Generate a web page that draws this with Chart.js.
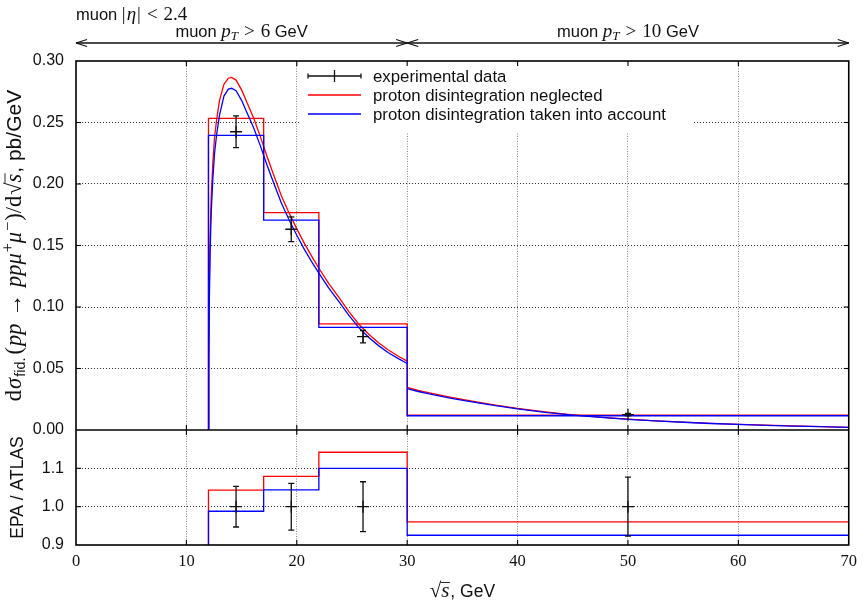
<!DOCTYPE html>
<html><head><meta charset="utf-8">
<script src="https://cdn.jsdelivr.net/npm/chart.js@4.4.1/dist/chart.umd.min.js"></script>
<style>html,body{margin:0;padding:0;background:#fff;}#wrap{width:864px;height:602px;}</style>
</head><body><div id="wrap"><canvas id="c" width="864" height="602"></canvas></div>
<script>
// ---------------- data ----------------
const binEdges  = [12, 17, 22, 30, 70];
const histRed   = [0.2534, 0.1767, 0.0862, 0.0120];
const histBlue  = [0.2396, 0.1707, 0.0835, 0.0116];
const dataX     = [14.5, 19.5, 26, 50];
const dataY     = [0.2425, 0.1632, 0.0759, 0.0125];
const dataErr   = [0.0129, 0.0100, 0.0050, 0.0010];
const ratioRed  = [1.043, 1.079, 1.142, 0.9605];
const ratioBlue = [0.988, 1.044, 1.100, 0.9255];
const ratioData = [1.0, 1.0, 1.0, 1.0];
const ratioErr  = [0.053, 0.061, 0.065, 0.077];

// smooth predictions, muon pT > 6 GeV region (sqrt(s) < 30)
const curveX1    = [12.0, 12.03, 12.08, 12.15, 12.25, 12.4, 12.55, 12.75, 13.0, 13.4, 13.8, 14.1, 14.5, 15.0, 15.5, 16.1, 16.7, 17.3, 17.9, 18.6, 19.3, 20.0, 20.7, 21.4, 22.0, 22.9, 23.8, 24.7, 25.6, 26.5, 27.4, 28.3, 29.2, 30.0];
const curveRed1  = [0, 0.060, 0.120, 0.160, 0.190, 0.218, 0.238, 0.253, 0.268, 0.281, 0.2860, 0.2866, 0.2845, 0.2765, 0.2660, 0.2534, 0.2385, 0.2225, 0.2075, 0.1905, 0.1765, 0.1635, 0.1515, 0.1405, 0.1315, 0.1190, 0.1080, 0.0965, 0.0862, 0.0780, 0.0710, 0.0650, 0.0600, 0.0560];
const curveBlue1 = [0, 0.050, 0.105, 0.145, 0.177, 0.205, 0.225, 0.241, 0.256, 0.2715, 0.2772, 0.2778, 0.2758, 0.2680, 0.2577, 0.2455, 0.2310, 0.2155, 0.2010, 0.1845, 0.1710, 0.1583, 0.1467, 0.1360, 0.1275, 0.1153, 0.1046, 0.0934, 0.0834, 0.0754, 0.0686, 0.0628, 0.0580, 0.0541];
// muon pT > 10 GeV region (sqrt(s) > 30)
const curveX2    = [30, 31, 32, 34, 36, 38, 40, 42.5, 45, 47.5, 50, 52.5, 55, 57.5, 60, 62.5, 65, 67.5, 70];
const curveRed2  = [0.0347, 0.0322, 0.0302, 0.0265, 0.0232, 0.0203, 0.0175, 0.0147, 0.0123, 0.0104, 0.0088, 0.0075, 0.0064, 0.0054, 0.0046, 0.0039, 0.0033, 0.0027, 0.0022];
const curveBlue2 = [0.0336, 0.0313, 0.0294, 0.0258, 0.0226, 0.0198, 0.0171, 0.0144, 0.0121, 0.0102, 0.0086, 0.0074, 0.0063, 0.0053, 0.0045, 0.0038, 0.0032, 0.0027, 0.0022];

const xTicks    = [0, 10, 20, 30, 40, 50, 60, 70];
const yTopTicks = [0.00, 0.05, 0.10, 0.15, 0.20, 0.25, 0.30];
const yBotTicks = [0.9, 1.0, 1.1, 1.2];
const legendLabels = ['experimental data', 'proton disintegration neglected', 'proton disintegration taken into account'];

// ---------------- styles ----------------
const SANS  = '"Liberation Sans", Arial, sans-serif';
const SERIF = '"Liberation Serif", "Times New Roman", serif';
const INK = '#111';
const RED = '#ff0000';
const BLUE = '#0000ff';

function histPoints(edges, vals, base) {
  const pts = [{x: edges[0], y: base}];
  for (let i = 0; i < vals.length; i++) {
    pts.push({x: edges[i], y: vals[i]});
    pts.push({x: edges[i + 1], y: vals[i]});
  }
  return pts;
}
function curvePoints(xa, ya, xb, yb) {
  const pts = xa.map((x, i) => ({x, y: ya[i]}));
  pts.push({x: xa[xa.length - 1], y: null});
  xb.forEach((x, i) => pts.push({x, y: yb[i]}));
  return pts;
}
const near = (a, b) => Math.abs(a - b) < 1e-6;

const lineBase = {type: 'line', borderWidth: 1.3, pointRadius: 0, fill: false, tension: 0, spanGaps: false};

function richWidth(ctx, parts) {
  let w = 0;
  for (const p of parts) { ctx.font = p.f; w += ctx.measureText(p.t).width + (p.sp || 0); }
  return w;
}
function drawRich(ctx, parts, x, y, align) {
  const w = richWidth(ctx, parts);
  let cx = align === 'center' ? x - w / 2 : x;
  ctx.textAlign = 'left';
  ctx.textBaseline = 'alphabetic';
  for (const p of parts) {
    ctx.font = p.f;
    const tw = ctx.measureText(p.t).width;
    ctx.fillText(p.t, cx, y + (p.dy || 0));
    if (p.over) {
      ctx.beginPath();
      ctx.lineWidth = 0.9;
      ctx.moveTo(cx - 0.5, y - p.over);
      ctx.lineTo(cx + tw + 0.5, y - p.over);
      ctx.stroke();
    }
    cx += tw + (p.sp || 0);
  }
}

const errorBars = {
  id: 'errorBars',
  afterDatasetsDraw(chart) {
    const {ctx, chartArea: a, scales} = chart;
    const groups = [[scales.yTop, dataY, dataErr], [scales.yBot, ratioData, ratioErr]];
    ctx.save();
    ctx.strokeStyle = INK;
    ctx.lineWidth = 1.3;
    for (const [ys, vals, errs] of groups) {
      ctx.save();
      ctx.beginPath();
      ctx.rect(a.left, ys.top, a.right - a.left, ys.bottom - ys.top);
      ctx.clip();
      vals.forEach((v, i) => {
        const px = scales.x.getPixelForValue(dataX[i]);
        const y1 = ys.getPixelForValue(v - errs[i]);
        const y2 = ys.getPixelForValue(v + errs[i]);
        ctx.beginPath();
        ctx.moveTo(px, y1); ctx.lineTo(px, y2);
        ctx.moveTo(px - 3, y1); ctx.lineTo(px + 3, y1);
        ctx.moveTo(px - 3, y2); ctx.lineTo(px + 3, y2);
        ctx.stroke();
      });
      ctx.restore();
    }
    ctx.restore();
  }
};

const decorations = {
  id: 'decorations',
  afterDraw(chart) {
    const {ctx, chartArea: a, scales: {x, yTop, yBot}} = chart;
    const L = (x1, y1, x2, y2) => { ctx.beginPath(); ctx.moveTo(x1, y1); ctx.lineTo(x2, y2); ctx.stroke(); };
    ctx.save();

    // ---- legend (opaque key box) ----
    ctx.fillStyle = '#fff';
    ctx.fillRect(300, 63, 392, 69);
    const rows = [76, 95, 114];
    const sx0 = 308, sx1 = 361;
    ctx.lineWidth = 1.3;
    ctx.strokeStyle = INK;
    L(sx0, rows[0], sx1, rows[0]);
    L(sx0, rows[0] - 2.5, sx0, rows[0] + 2.5);
    L(sx1, rows[0] - 2.5, sx1, rows[0] + 2.5);
    L((sx0 + sx1) / 2, rows[0] - 6, (sx0 + sx1) / 2, rows[0] + 6);
    ctx.strokeStyle = RED; L(sx0, rows[1], sx1, rows[1]);
    ctx.strokeStyle = BLUE; L(sx0, rows[2], sx1, rows[2]);
    ctx.fillStyle = INK;
    ctx.font = `16.8px ${SANS}`;
    ctx.textAlign = 'left';
    ctx.textBaseline = 'middle';
    legendLabels.forEach((t, i) => ctx.fillText(t, 373, rows[i] + 1));

    // ---- frame, separator, inward ticks ----
    ctx.strokeStyle = '#000';
    ctx.lineWidth = 1.6;
    ctx.strokeRect(a.left, a.top, a.right - a.left, a.bottom - a.top);
    const ySep = yTop.bottom;
    L(a.left, ySep, a.right, ySep);
    ctx.lineWidth = 1.1;
    const T = 5;
    xTicks.forEach(v => {
      if (v <= 0 || v >= 70) return;
      const px = x.getPixelForValue(v);
      L(px, a.top, px, a.top + T);
      L(px, ySep - T, px, ySep + T);
      L(px, a.bottom, px, a.bottom - T);
    });
    yTopTicks.forEach(v => {
      if (near(v, 0) || near(v, 0.3)) return;
      const py = yTop.getPixelForValue(v);
      L(a.left, py, a.left + T, py);
      L(a.right, py, a.right - T, py);
    });
    yBotTicks.forEach(v => {
      if (near(v, 0.9) || near(v, 1.2)) return;
      const py = yBot.getPixelForValue(v);
      L(a.left, py, a.left + T, py);
      L(a.right, py, a.right - T, py);
    });

    // ---- top annotations ----
    ctx.fillStyle = INK;
    ctx.strokeStyle = INK;
    const M = `19px ${SERIF}`, MI = `italic 19px ${SERIF}`, S = `16.5px ${SANS}`;
    drawRich(ctx, [
      {t: 'muon ', f: S}, {t: '|', f: M, sp: 1}, {t: 'η', f: MI, sp: 1}, {t: '|', f: M, sp: 6}, {t: '<', f: M, sp: 6}, {t: '2.4', f: M}
    ], 76, 20, 'left');
    const ptParts = (n) => [
      {t: 'muon ', f: S}, {t: 'p', f: MI}, {t: 'T', f: `italic 13px ${SERIF}`, dy: 3, sp: 6}, {t: '>', f: M, sp: 6}, {t: n, f: M}, {t: ' GeV', f: S}
    ];
    drawRich(ctx, ptParts('6'), x.getPixelForValue(15), 37, 'center');
    drawRich(ctx, ptParts('10'), x.getPixelForValue(50), 37, 'center');
    // arrows
    const ay = 43;
    ctx.lineWidth = 1.3;
    const arrow = (xa, xb) => {
      L(xa, ay, xb, ay);
      L(xa, ay, xa + 11, ay - 3.5); L(xa, ay, xa + 11, ay + 3.5);
      L(xb, ay, xb - 11, ay - 3.5); L(xb, ay, xb - 11, ay + 3.5);
    };
    arrow(x.getPixelForValue(0), x.getPixelForValue(30));
    arrow(x.getPixelForValue(30), x.getPixelForValue(70));

    // ---- x-axis title ----
    drawRich(ctx, [
      {t: '√', f: `21px ${SERIF}`}, {t: 's', f: `italic 21px ${SERIF}`, over: 14.5, sp: 1}, {t: ', GeV', f: `17.5px ${SANS}`}
    ], (a.left + a.right) / 2, 597, 'center');

    // ---- y-axis titles ----
    ctx.save();
    ctx.translate(21, (yTop.top + yTop.bottom) / 2);
    ctx.rotate(-Math.PI / 2);
    const YM = `22.5px ${SERIF}`, YMI = `italic 22.5px ${SERIF}`, YS = `21px ${SANS}`, YSm = `16px ${SERIF}`;
    drawRich(ctx, [
      {t: 'd', f: YM, sp: 1}, {t: 'σ', f: YMI, sp: 1}, {t: 'fid.', f: `14.5px ${SANS}`, dy: 4, sp: 3},
      {t: '(', f: YM, sp: 1}, {t: 'pp', f: YMI, sp: 7}, {t: '→', f: YM, sp: 7}, {t: 'ppμ', f: YMI, sp: 1},
      {t: '+', f: YSm, dy: -8}, {t: 'μ', f: YMI, sp: 1}, {t: '−', f: YSm, dy: -8, sp: 1},
      {t: ')/d', f: YM, sp: 1}, {t: '√', f: YM}, {t: 's', f: YMI, over: 16, sp: 1}, {t: ', pb/GeV', f: YS}
    ], 0, 0, 'center');
    ctx.restore();
    ctx.save();
    ctx.translate(23, (yBot.top + yBot.bottom) / 2);
    ctx.rotate(-Math.PI / 2);
    ctx.font = `17.5px ${SANS}`;
    ctx.textAlign = 'center';
    ctx.textBaseline = 'alphabetic';
    ctx.fillText('EPA / ATLAS', 0, 0);
    ctx.restore();

    ctx.restore();
  }
};

const ctx = document.getElementById('c').getContext('2d');
new Chart(ctx, {
  type: 'line',
  data: {
    datasets: [
      {type: 'line', label: legendLabels[0], yAxisID: 'yTop', showLine: false,
       data: dataX.map((x, i) => ({x, y: dataY[i]})),
       pointStyle: 'cross', pointRadius: 6, pointBorderWidth: 1.3, borderColor: INK, pointBorderColor: INK},
      {type: 'line', label: 'ratio data', yAxisID: 'yBot', showLine: false,
       data: dataX.map((x, i) => ({x, y: ratioData[i]})),
       pointStyle: 'cross', pointRadius: 6, pointBorderWidth: 1.3, borderColor: INK, pointBorderColor: INK},
      {...lineBase, label: legendLabels[2], yAxisID: 'yTop', borderColor: BLUE,
       data: curvePoints(curveX1, curveBlue1, curveX2, curveBlue2)},
      {...lineBase, label: 'blue histogram', yAxisID: 'yTop', borderColor: BLUE,
       data: histPoints(binEdges, histBlue, 0)},
      {...lineBase, label: 'blue ratio', yAxisID: 'yBot', borderColor: BLUE,
       data: histPoints(binEdges, ratioBlue, 0)},
      {...lineBase, label: legendLabels[1], yAxisID: 'yTop', borderColor: RED,
       data: curvePoints(curveX1, curveRed1, curveX2, curveRed2)},
      {...lineBase, label: 'red histogram', yAxisID: 'yTop', borderColor: RED,
       data: histPoints(binEdges, histRed, 0)},
      {...lineBase, label: 'red ratio', yAxisID: 'yBot', borderColor: RED,
       data: histPoints(binEdges, ratioRed, 0)}
    ]
  },
  options: {
    responsive: false,
    animation: false,
    devicePixelRatio: 1,
    layout: {padding: {left: 0, top: 61, right: 11, bottom: 0}},
    plugins: {legend: {display: false}, tooltip: {enabled: false}},
    scales: {
      x: {
        type: 'linear', min: 0, max: 70,
        afterBuildTicks: s => { s.ticks = xTicks.map(v => ({value: v})); },
        afterFit: s => { s.height = 57; },
        ticks: {color: INK, font: {family: SERIF, size: 16.5}, padding: 7, maxRotation: 0, autoSkip: false},
        grid: {drawTicks: false, lineWidth: 1, color: c => (c.tick && (near(c.tick.value, 0) || near(c.tick.value, 70))) ? 'rgba(0,0,0,0)' : '#8a8a8a'},
        border: {display: false, dash: [1, 1.5]}
      },
      yBot: {
        type: 'linear', position: 'left', stack: 'v', stackWeight: 115, min: 0.9, max: 1.2,
        afterBuildTicks: s => { s.ticks = yBotTicks.map(v => ({value: v})); },
        afterFit: s => { s.width = 76; },
        ticks: {color: INK, font: {family: SANS, size: 16}, padding: 12, autoSkip: false,
                callback: v => near(v, 1.2) ? '' : Number(v).toFixed(1)},
        grid: {drawTicks: false, lineWidth: 1, color: c => (c.tick && (near(c.tick.value, 0.9) || near(c.tick.value, 1.2))) ? 'rgba(0,0,0,0)' : '#333'},
        border: {display: false, dash: [1, 2]}
      },
      yTop: {
        type: 'linear', position: 'left', stack: 'v', stackWeight: 369, min: 0, max: 0.3,
        afterBuildTicks: s => { s.ticks = yTopTicks.map(v => ({value: v})); },
        afterFit: s => { s.width = 76; },
        ticks: {color: INK, font: {family: SANS, size: 16}, padding: 12, autoSkip: false,
                callback: v => Number(v).toFixed(2)},
        grid: {drawTicks: false, lineWidth: 1, color: c => (c.tick && (near(c.tick.value, 0) || near(c.tick.value, 0.3))) ? 'rgba(0,0,0,0)' : '#333'},
        border: {display: false, dash: [1, 2]}
      }
    }
  },
  plugins: [errorBars, decorations]
});
</script>
</body></html>
